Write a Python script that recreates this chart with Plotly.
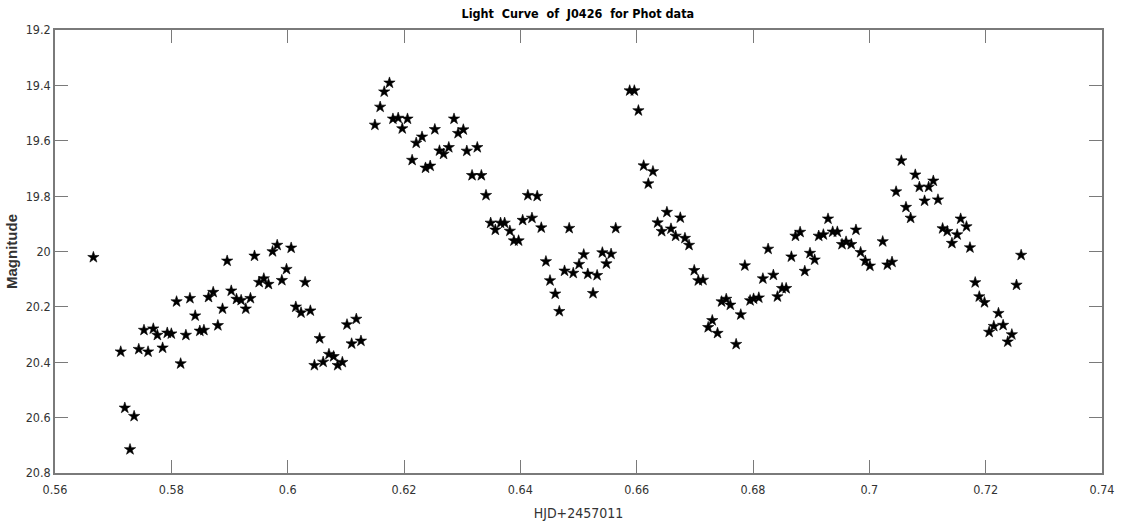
import plotly.graph_objects as go

# HJD offset from 2457011
hjd = [
    0.5666, 0.5713, 0.5720, 0.5729, 0.5736, 0.5744, 0.5753, 0.5760, 0.5769, 0.5776,
    0.5785, 0.5793, 0.5800, 0.5809, 0.5816, 0.5825, 0.5832, 0.5841, 0.5849, 0.5856,
    0.5864, 0.5872, 0.5880, 0.5888, 0.5896, 0.5903, 0.5912, 0.5920, 0.5928, 0.5936,
    0.5943, 0.5951, 0.5959, 0.5967, 0.5974, 0.5982, 0.5990, 0.5998, 0.6006, 0.6014,
    0.6023, 0.6030, 0.6039, 0.6046, 0.6055, 0.6061, 0.6071, 0.6079, 0.6086, 0.6094,
    0.6102, 0.6110, 0.6118, 0.6126,
    0.6150, 0.6159, 0.6166, 0.6175, 0.6181, 0.6190, 0.6197, 0.6206, 0.6214, 0.6221,
    0.6231, 0.6237, 0.6245, 0.6253, 0.6261, 0.6268, 0.6277, 0.6286, 0.6293, 0.6302,
    0.6308, 0.6317, 0.6326, 0.6333, 0.6341, 0.6349, 0.6357, 0.6366, 0.6373, 0.6382,
    0.6389, 0.6397, 0.6404, 0.6413, 0.6420, 0.6429, 0.6436, 0.6444, 0.6451, 0.6460,
    0.6467, 0.6476, 0.6484, 0.6491, 0.6501, 0.6509, 0.6516, 0.6525, 0.6532, 0.6541,
    0.6548, 0.6556, 0.6564,
    0.6588, 0.6596, 0.6603, 0.6612, 0.6620, 0.6628, 0.6636, 0.6643, 0.6652, 0.6659,
    0.6667, 0.6675, 0.6683, 0.6690, 0.6699, 0.6706, 0.6714, 0.6723, 0.6730, 0.6739,
    0.6746, 0.6754, 0.6761, 0.6771, 0.6779, 0.6786, 0.6795, 0.6801, 0.6810, 0.6817,
    0.6826, 0.6835, 0.6842, 0.6850, 0.6857, 0.6866, 0.6873, 0.6881, 0.6889, 0.6898,
    0.6906, 0.6913, 0.6921, 0.6929, 0.6937, 0.6945, 0.6953, 0.6960, 0.6969, 0.6977,
    0.6985, 0.6993, 0.7001, 0.7023, 0.7031, 0.7039, 0.7046, 0.7055, 0.7063, 0.7071,
    0.7079, 0.7086, 0.7095, 0.7102, 0.7110, 0.7118, 0.7126, 0.7134, 0.7142, 0.7151,
    0.7157, 0.7167, 0.7173, 0.7182, 0.7189, 0.7198, 0.7206, 0.7214, 0.7222, 0.7230,
    0.7238, 0.7245, 0.7253, 0.7261,
]

mag = [
    20.021, 20.362, 20.565, 20.715, 20.595, 20.353, 20.284, 20.362, 20.279, 20.302,
    20.348, 20.294, 20.297, 20.181, 20.405, 20.302, 20.169, 20.232, 20.287, 20.284,
    20.165, 20.147, 20.267, 20.207, 20.034, 20.142, 20.172, 20.176, 20.207, 20.169,
    20.016, 20.111, 20.098, 20.118, 20.000, 19.977, 20.104, 20.064, 19.987, 20.200,
    20.221, 20.111, 20.214, 20.411, 20.314, 20.399, 20.371, 20.379, 20.411, 20.400,
    20.264, 20.333, 20.244, 20.323,
    19.543, 19.478, 19.423, 19.391, 19.521, 19.518, 19.556, 19.521, 19.670, 19.608,
    19.586, 19.698, 19.691, 19.559, 19.636, 19.648, 19.624, 19.521, 19.573, 19.560,
    19.637, 19.725, 19.624, 19.725, 19.797, 19.897, 19.922, 19.897, 19.897, 19.926,
    19.961, 19.961, 19.887, 19.797, 19.879, 19.800, 19.914, 20.036, 20.105, 20.153,
    20.216, 20.070, 19.916, 20.078, 20.046, 20.011, 20.081, 20.151, 20.086, 20.004,
    20.044, 20.009, 19.916,
    19.419, 19.419, 19.491, 19.690, 19.755, 19.711, 19.896, 19.927, 19.858, 19.918,
    19.944, 19.878, 19.952, 19.977, 20.068, 20.105, 20.103, 20.274, 20.249, 20.295,
    20.181, 20.172, 20.193, 20.335, 20.228, 20.051, 20.177, 20.171, 20.167, 20.098,
    19.991, 20.085, 20.163, 20.133, 20.133, 20.019, 19.944, 19.930, 20.071, 20.006,
    20.030, 19.944, 19.939, 19.882, 19.929, 19.929, 19.974, 19.965, 19.974, 19.922,
    20.003, 20.034, 20.052, 19.964, 20.048, 20.038, 19.784, 19.672, 19.840, 19.879,
    19.723, 19.767, 19.817, 19.767, 19.745, 19.813, 19.917, 19.927, 19.970, 19.939,
    19.882, 19.910, 19.986, 20.112, 20.163, 20.184, 20.291, 20.270, 20.223, 20.266,
    20.326, 20.300, 20.121, 20.013,
]

font_family = "Liberation Sans Narrow, DejaVu Sans Condensed, Arial Narrow, sans-serif"
axis_grey = "#7a7a7a"

fig = go.Figure()
fig.add_trace(go.Scatter(
    x=hjd, y=mag, mode="markers",
    marker=dict(symbol="star", size=8.5, color="black", line=dict(width=0.6, color="black")),
    showlegend=False,
))

axis_common = dict(
    showgrid=False, zeroline=False, automargin=False,
    showline=True, linecolor=axis_grey, linewidth=1.5, mirror="ticks",
    ticks="inside", ticklen=13, tickwidth=1, tickcolor=axis_grey,
    tickfont=dict(family=font_family, size=12.5, color="#333333"),
)

fig.update_xaxes(
    range=[0.56, 0.74], tickvals=[0.56, 0.58, 0.6, 0.62, 0.64, 0.66, 0.68, 0.7, 0.72, 0.74],
    ticklabelstandoff=4,
    title=dict(text="HJD+2457011", font=dict(family=font_family, size=14, color="#333333"),
               standoff=12),
    **axis_common,
)
fig.update_yaxes(
    range=[20.8, 19.2], tickvals=[19.2, 19.4, 19.6, 19.8, 20, 20.2, 20.4, 20.6, 20.8],
    title=dict(text="<b>Magnitude</b>", font=dict(family="Liberation Sans, Arial, sans-serif",
                                                  size=15, color="#333333"),
               standoff=4),
    **axis_common,
)

fig.update_layout(
    width=1122, height=526,
    margin=dict(l=55, r=20, t=30, b=53),
    plot_bgcolor="white", paper_bgcolor="white",
    title=dict(text="<b>Light  Curve  of  J0426  for Phot data</b>", x=0.515, xanchor="center",
               y=0.975, yanchor="middle", automargin=False,
               font=dict(family=font_family, size=12.5, color="black")),
)

# drop the default page margin so the figure sits at the window's corner
fig.write_html("out.html", config={"displayModeBar": False},
               post_script="document.body.style.margin = '0';")
